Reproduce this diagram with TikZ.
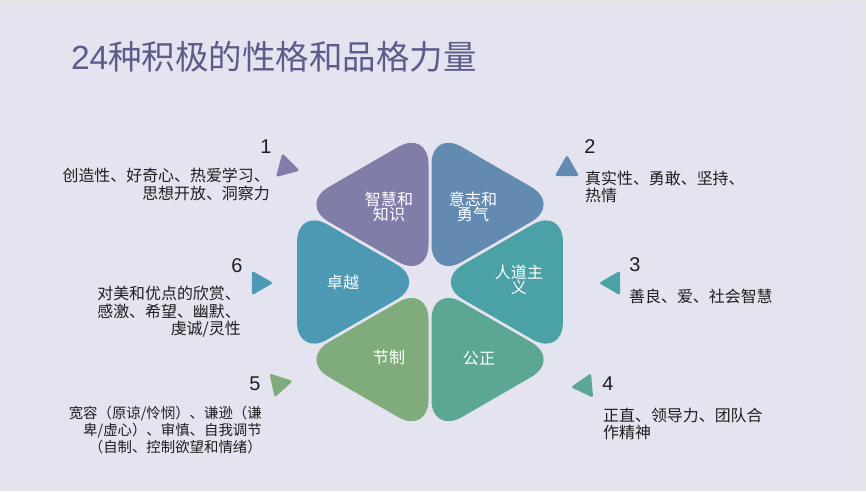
\documentclass[tikz,border=0pt]{standalone}
\usepackage{fontspec}
\usepackage{tikz}
\usetikzlibrary{shapes.geometric,calc}
\newfontfamily\cjk{Noto Sans CJK SC}
\newfontfamily\numfont{Liberation Sans}
\definecolor{bgcol}{RGB}{228,228,240}
\definecolor{edgecol}{RGB}{230,230,232}
\definecolor{titlecol}{RGB}{92,92,138}
\definecolor{txtcol}{RGB}{30,30,30}
\definecolor{cA}{RGB}{128,126,168}
\definecolor{cB}{RGB}{99,138,176}
\definecolor{cC}{RGB}{74,161,166}
\definecolor{cD}{RGB}{92,166,148}
\definecolor{cE}{RGB}{128,172,125}
\definecolor{cF}{RGB}{77,152,178}
\tikzset{
  petal/.style={rounded corners=1.05cm},
  petaltext/.style={text=white, font=\cjk\fontsize{13.7}{12.8}\selectfont, align=center, inner sep=0pt},
  marker/.style={regular polygon, regular polygon sides=3, minimum size=0.85cm, inner sep=0pt, rounded corners=2pt},
  num/.style={text=txtcol, font=\numfont\fontsize{17}{20}\selectfont, inner sep=0pt},
  desc/.style={text=txtcol, font=\cjk\fontsize{13.6}{14.9}\selectfont, inner sep=0pt},
  title/.style={text=titlecol, font=\cjk\fontsize{28.6}{32}\selectfont, inner sep=0pt},
}
\begin{document}
\begin{tikzpicture}[x=0.03cm,y=-0.03cm]
  \useasboundingbox (0,0) rectangle (866,491);
  \fill[edgecol] (0,0) rectangle (866,491);
  \fill[bgcol] (0,3) rectangle (862,488);
  \node[title] (ttl) at (274,57) {{\numfont 24}种积极的性格和品格力量};
  % six petals round the centre
  \coordinate (O) at (430,282);
  \foreach \s/\col in {240/cA, 300/cB, 0/cC, 60/cD, 120/cE, 180/cF} {
    \fill[petal, fill=\col] ($(O)+(\s:3)$) -- +(\s+30:150) -- +(\s-30:150) -- cycle;
  }
  \node[petaltext] (p1) at (389,207) {智慧和\\知识};
  \node[petaltext] (p2) at (473,207) {意志和\\勇气};
  \node[petaltext] (p3) at (519,280) {人道主\\义};
  \node[petaltext] (p4) at (479,359) {公正};
  \node[petaltext] (p5) at (389,357) {节制};
  \node[petaltext] (p6) at (343,282) {卓越};
  % markers
  \node[marker, fill=cA, shape border rotate=15] (mk1) at (286,167) {};
  \node[marker, fill=cB, shape border rotate=0] (mk2) at (567,169) {};
  \node[marker, fill=cC, shape border rotate=-30] (mk3) at (613,283) {};
  \node[marker, fill=cD, shape border rotate=-25] (mk4) at (585,386) {};
  \node[marker, fill=cE, shape border rotate=42] (mk5) at (279,384) {};
  \node[marker, fill=cF, shape border rotate=30] (mk6) at (259,283) {};
  % numbers
  \node[num] (n1) at (266,147) {1};
  \node[num] (n2) at (590,147) {2};
  \node[num] (n3) at (635,265) {3};
  \node[num] (n4) at (608,384) {4};
  \node[num] (n5) at (255,384) {5};
  \node[num] (n6) at (237,266) {6};
  % texts
  \node[desc, anchor=east, align=right] (d1) at (270,184.5) {创造性、好奇心、热爱学习、\\思想开放、洞察力};
  \node[desc, anchor=west, align=left] (d2) at (585,187) {真实性、勇敢、坚持、\\热情};
  \node[desc, anchor=west, align=left] (d3) at (629,296) {善良、爱、社会智慧};
  \node[desc, anchor=west, align=left] (d4) at (603,424) {正直、领导力、团队合\\作精神};
  \node[desc, anchor=east, align=right, font=\cjk\fontsize{12.3}{14.5}\selectfont] (d5) at (262,430) {宽容（原谅/怜悯）、谦逊（谦\\卑/虚心）、审慎、自我调节\\（自制、控制欲望和情绪）};
  \node[desc, anchor=east, align=right] (d6) at (241,311.7) {对美和优点的欣赏、\\感激、希望、幽默、\\虔诚/灵性};
\end{tikzpicture}
\end{document}
